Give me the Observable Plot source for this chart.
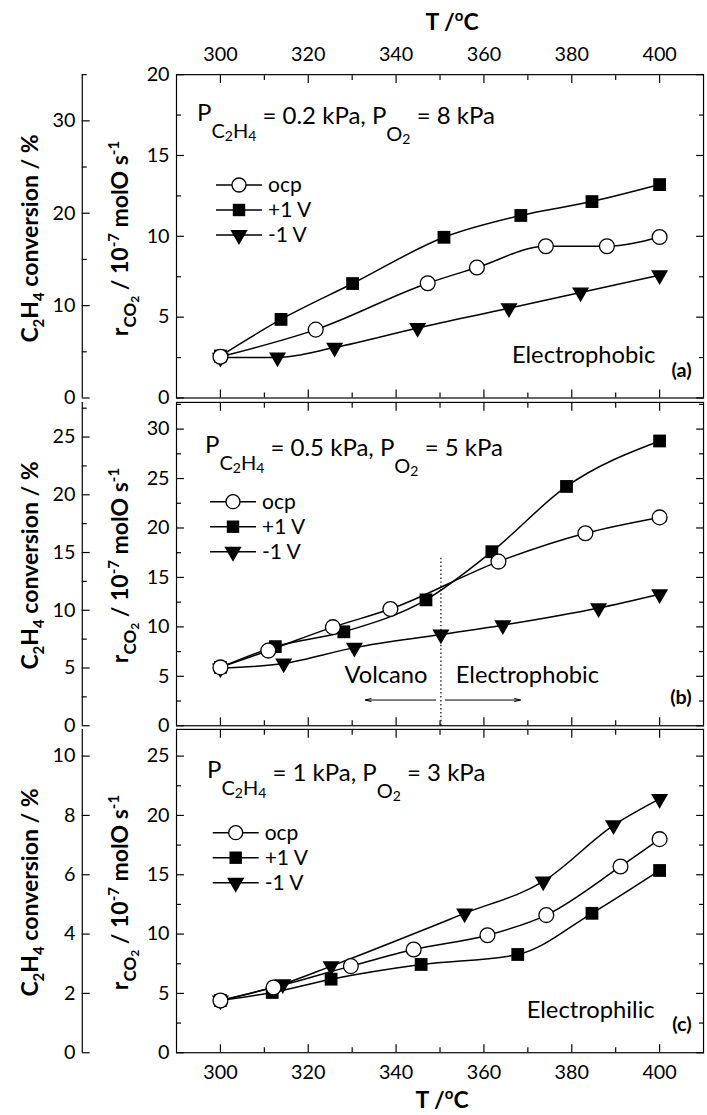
<!DOCTYPE html>
<html>
<head>
<meta charset="utf-8">
<script src="https://cdn.jsdelivr.net/npm/d3@7"></script>
<script src="https://cdn.jsdelivr.net/npm/@observablehq/plot@0.6"></script>
<style>
html, body { margin: 0; padding: 0; overflow: hidden; background: #fff; }
#wrap { position: relative; width: 707px; height: 1115px; overflow: hidden; font-family: Lato, sans-serif; }
#wrap .pnl { position: absolute; left: 0; }
#overlay { position: absolute; left: 0; top: 0; pointer-events: none; }
</style>
</head>
<body>
<div id="wrap"></div>
<script>
// ---------- shared axis values ----------
const xDomain = [290, 410];
const xMajor = [300, 320, 340, 360, 380, 400];
const xMinor = [310, 330, 350, 370, 390];
const seriesNames = ["ocp", "+1 V", "-1 V"];

// ---------- panel (a): P_C2H4 = 0.2 kPa, P_O2 = 8 kPa ----------
const aOcpT = [300, 321.7, 347.2, 358.4, 374.1, 388, 400];
const aOcpR = [2.55, 4.23, 7.1, 8.07, 9.39, 9.39, 9.96];
const aPosT = [300, 313.8, 330.1, 350.9, 368.4, 384.6, 400];
const aPosR = [2.6, 4.86, 7.08, 9.94, 11.29, 12.15, 13.2];
const aNegT = [300, 313, 326, 344.9, 365.7, 382, 400];
const aNegR = [2.5, 2.51, 3.12, 4.33, 5.55, 6.53, 7.6];
const aRateMajor = [0, 5, 10, 15, 20];
const aRateMinor = [2.5, 7.5, 12.5, 17.5];
const aConvMajor = [0, 10, 20, 30];
const aConvMinor = [5, 15, 25, 35];

// ---------- panel (b): P_C2H4 = 0.5 kPa, P_O2 = 5 kPa ----------
const bOcpT = [300, 310.9, 325.6, 338.7, 363.3, 383.1, 400];
const bOcpR = [5.9, 7.6, 9.97, 11.8, 16.6, 19.47, 21.07];
const bPosT = [300, 312.5, 328.1, 346.8, 361.8, 378.8, 400];
const bPosR = [5.9, 8.0, 9.5, 12.73, 17.6, 24.2, 28.8];
const bNegT = [300, 314.4, 330.5, 350.2, 364.3, 386.1, 400];
const bNegR = [5.8, 6.3, 7.9, 9.23, 10.17, 11.9, 13.3];
const bRateMajor = [0, 5, 10, 15, 20, 25, 30];
const bRateMinor = [2.5, 7.5, 12.5, 17.5, 22.5, 27.5, 32.5];
const bConvMajor = [0, 5, 10, 15, 20, 25];
const bConvMinor = [2.5, 7.5, 12.5, 17.5, 22.5, 27.5];
const bBoundaryT = [350.2];
const bArrowFromT = [349, 351.2];
const bArrowToT = [333, 368.3];

// ---------- panel (c): P_C2H4 = 1 kPa, P_O2 = 3 kPa ----------
const cOcpT = [300, 312.1, 329.7, 344, 360.8, 374.2, 391.1, 400];
const cOcpR = [4.4, 5.5, 7.3, 8.7, 9.9, 11.6, 15.7, 18.0];
const cPosT = [300, 311.8, 325.2, 345.7, 367.7, 384.6, 400];
const cPosR = [4.4, 5.08, 6.2, 7.44, 8.28, 11.75, 15.36];
const cNegT = [300, 314.2, 325.2, 355.6, 373.5, 389.5, 400];
const cNegR = [4.4, 5.78, 7.3, 11.75, 14.44, 19.17, 21.4];
const cRateMajor = [0, 5, 10, 15, 20, 25];
const cRateMinor = [2.5, 7.5, 12.5, 17.5, 22.5];
const cConvMajor = [0, 2, 4, 6, 8, 10];
const cConvMinor = [];

// ---------- layout ----------
const W = 715, ML = 178, MR = 4, OUT = 95.3;
const panels = [
  { tag: "(a)", top: 0, height: 410, mt: 75, mb: 8, rateTop: 20, convTop: 35,
    series: [[aOcpT, aOcpR], [aPosT, aPosR], [aNegT, aNegR]],
    rateMajor: aRateMajor, rateMinor: aRateMinor, convMajor: aConvMajor, convMinor: aConvMinor,
    topLabels: true, bottomLabels: false,
    notes: [{T: 382.7, r: 2.66, text: "Electrophobic"}] },
  { tag: "(b)", top: 394, height: 343, mt: 8, mb: 8, rateTop: 32.7, convTop: 28,
    series: [[bOcpT, bOcpR], [bPosT, bPosR], [bNegT, bNegR]],
    rateMajor: bRateMajor, rateMinor: bRateMinor, convMajor: bConvMajor, convMinor: bConvMinor,
    topLabels: false, bottomLabels: false,
    notes: [{T: 337.7, r: 5.1, text: "Volcano"}, {T: 369.9, r: 5.1, text: "Electrophobic"}],
    boundary: bBoundaryT.map(t => ({T: t, r1: 0, r2: 17})),
    arrows: bArrowFromT.map((t, i) => ({T1: t, T2: bArrowToT[i], r: 2.6})) },
  { tag: "(c)", top: 721, height: 394, mt: 8, mb: 59, rateTop: 27.25, convTop: 10.9,
    series: [[cOcpT, cOcpR], [cPosT, cPosR], [cNegT, cNegR]],
    rateMajor: cRateMajor, rateMinor: cRateMinor, convMajor: cConvMajor, convMinor: cConvMinor,
    topLabels: false, bottomLabels: true,
    notes: [{T: 384.3, r: 3.56, text: "Electrophilic"}] }
];

const wrap = document.getElementById("wrap");
const blank = () => "";
const fmt = d => String(+d.toFixed(2));

panels.forEach(p => {
  const k = p.rateTop / p.convTop;
  const rows = [];
  p.series.forEach(([T, R], j) => T.forEach((t, i) => rows.push({T: t, r: R[i], s: seriesNames[j]})));
  const marks = [
    Plot.frame({stroke: "black", strokeWidth: 1.2}),
    // outer conversion axis
    Plot.ruleX([xDomain[0]], {dx: -OUT, stroke: "black", strokeWidth: 1.2}),
    Plot.axisY(p.convMajor.map(v => v * k), {anchor: "left", dx: -OUT, tickSize: -8, tickPadding: 15,
      tickFormat: d => fmt(d / k), label: null, fontSize: 20, strokeWidth: 1.2}),
    p.convMinor.length ? Plot.axisY(p.convMinor.map(v => v * k), {anchor: "left", dx: -OUT, tickSize: -5,
      tickFormat: blank, label: null, strokeWidth: 1.2}) : null,
    // inner rate axis (left + mirrored right)
    Plot.axisY(p.rateMajor, {anchor: "left", tickSize: -8, tickPadding: 15, label: null, fontSize: 20, strokeWidth: 1.2}),
    Plot.axisY(p.rateMinor, {anchor: "left", tickSize: -5, tickFormat: blank, label: null, strokeWidth: 1.2}),
    Plot.axisY(p.rateMajor, {anchor: "right", tickSize: -8, tickFormat: blank, label: null, strokeWidth: 1.2}),
    Plot.axisY(p.rateMinor, {anchor: "right", tickSize: -5, tickFormat: blank, label: null, strokeWidth: 1.2}),
    // x axes, top and bottom, ticks inward
    Plot.axisX(xMajor, {anchor: "top", tickSize: -8, tickPadding: 22, tickFormat: p.topLabels ? (d => d) : blank,
      label: null, fontSize: 20, strokeWidth: 1.2}),
    Plot.axisX(xMinor, {anchor: "top", tickSize: -5, tickFormat: blank, label: null, strokeWidth: 1.2}),
    Plot.axisX(xMajor, {anchor: "bottom", tickSize: -8, tickPadding: 20, tickFormat: p.bottomLabels ? (d => d) : blank,
      label: null, fontSize: 20, strokeWidth: 1.2}),
    Plot.axisX(xMinor, {anchor: "bottom", tickSize: -5, tickFormat: blank, label: null, strokeWidth: 1.2}),
    // data
    Plot.line(rows, {x: "T", y: "r", z: "s", curve: "monotone-x", stroke: "black", strokeWidth: 1.5}),
    Plot.dot(rows.filter(d => d.s === "-1 V"), {x: "T", y: "r", symbol: "triangle", r: 6.4, fill: "black", rotate: 180}),
    Plot.dot(rows.filter(d => d.s === "+1 V"), {x: "T", y: "r", symbol: "square", r: 7.3, fill: "black"}),
    Plot.dot(rows.filter(d => d.s === "ocp"), {x: "T", y: "r", symbol: "circle", r: 7.5, fill: "white", stroke: "black", strokeWidth: 1.3}),
    // annotations
    Plot.text(p.notes, {x: "T", y: "r", text: "text", fontSize: 24, textAnchor: "middle"}),
    Plot.text([p.tag], {text: d => d, frameAnchor: "bottom-right", dx: -12, dy: -28, fontSize: 20,
      fontWeight: "bold", textAnchor: "end", lineAnchor: "middle"})
  ];
  if (p.boundary) marks.push(Plot.ruleX(p.boundary, {x: "T", y1: "r1", y2: "r2", stroke: "black",
    strokeWidth: 1.2, strokeDasharray: "1.5,2.5"}));
  if (p.arrows) marks.push(Plot.arrow(p.arrows, {x1: "T1", x2: "T2", y1: "r", y2: "r", stroke: "black",
    strokeWidth: 1, headLength: 9, headAngle: 30}));

  const svg = Plot.plot({
    width: W, height: p.height,
    marginLeft: ML, marginRight: MR, marginTop: p.mt, marginBottom: p.mb,
    x: {domain: xDomain, axis: null},
    y: {domain: [0, p.rateTop], axis: null},
    style: {fontFamily: "Lato, sans-serif", fontSize: "20px", background: "none", overflow: "visible", color: "black"},
    marks: marks.filter(Boolean)
  });
  const div = document.createElement("div");
  div.className = "pnl";
  div.style.top = p.top + "px";
  div.appendChild(svg);
  wrap.appendChild(div);
});

// ---------- overlay: rich-text titles, headers, legends ----------
const NS = "http://www.w3.org/2000/svg";
const ov = document.createElementNS(NS, "svg");
ov.setAttribute("id", "overlay");
ov.setAttribute("width", 707);
ov.setAttribute("height", 1115);
ov.style.fontFamily = "Lato, sans-serif";
wrap.appendChild(ov);

function addText(parts, attrs) {
  const t = document.createElementNS(NS, "text");
  for (const [a, v] of Object.entries(attrs)) t.setAttribute(a, v);
  parts.forEach(([str, size, dy]) => {
    const s = document.createElementNS(NS, "tspan");
    s.textContent = str;
    if (size) s.setAttribute("font-size", size);
    if (dy) s.setAttribute("dy", dy);
    t.appendChild(s);
  });
  ov.appendChild(t);
  return t;
}

// temperature titles
const tTitle = [["T /", null, 0], ["o", 15, -9], ["C", null, 9]];
addText(tTitle, {x: 452, y: 29.5, "text-anchor": "middle", "font-weight": "bold", "font-size": 23});
addText(tTitle, {x: 442, y: 1108, "text-anchor": "middle", "font-weight": "bold", "font-size": 23});

// y titles per panel
const panelCenters = [238.5, 565.5, 892.5];
panelCenters.forEach(cy => {
  addText([["C", null, 0], ["2", 15, 6], ["H", null, -6], ["4", 15, 6], [" conversion / %", null, -6]],
    {transform: `translate(38,${cy}) rotate(-90)`, "text-anchor": "middle", "font-weight": "bold", "font-size": 23});
  addText([["r", null, 0], ["CO", 17, 8], ["2", 12, 3], [" / 10", null, -11], ["-7", 15, -9], [" molO s", null, 9], ["-1", 15, -9]],
    {transform: `translate(128,${cy}) rotate(-90)`, "text-anchor": "middle", "font-weight": "bold", "font-size": 23});
});

// condition headers
const headers = [
  {x: 197, y: 121, c2h4: "0.2", o2: "8"},
  {x: 205, y: 453, c2h4: "0.5", o2: "5"},
  {x: 207, y: 778, c2h4: "1", o2: "3"}
];
headers.forEach(h => {
  addText([["P", null, 0], ["C", 20, 17], ["2", 14, 3], ["H", 20, -3], ["4", 14, 3],
           [` = ${h.c2h4} kPa, P`, null, -17], ["O", 20, 17], ["2", 14, 3], [` = ${h.o2} kPa`, null, -20]],
    {x: h.x, y: h.y, "font-size": 24});
});

// legends
const legends = [{mx: 239, y0: 185}, {mx: 233, y0: 501.7}, {mx: 235.7, y0: 832.7}];
const legendSymbols = {
  "ocp": d3.symbol(d3.symbolCircle, Math.PI * 7 * 7)(),
  "+1 V": d3.symbol(d3.symbolSquare, Math.PI * 7 * 7)(),
  "-1 V": d3.symbol(d3.symbolTriangle, Math.PI * 6.4 * 6.4)()
};
legends.forEach(L => {
  seriesNames.forEach((name, i) => {
    const y = L.y0 + i * 25;
    const ln = document.createElementNS(NS, "line");
    ln.setAttribute("x1", L.mx - 23); ln.setAttribute("x2", L.mx + 23);
    ln.setAttribute("y1", y); ln.setAttribute("y2", y);
    ln.setAttribute("stroke", "black"); ln.setAttribute("stroke-width", 1.5);
    ov.appendChild(ln);
    const m = document.createElementNS(NS, "path");
    m.setAttribute("d", legendSymbols[name]);
    m.setAttribute("transform", `translate(${L.mx},${y})` + (name === "-1 V" ? " rotate(180)" : ""));
    m.setAttribute("fill", name === "ocp" ? "white" : "black");
    if (name === "ocp") { m.setAttribute("stroke", "black"); m.setAttribute("stroke-width", 1.3); }
    ov.appendChild(m);
    addText([[name, null, 0]], {x: L.mx + 29, y: y, dy: "0.35em", "font-size": 21});
  });
});
</script>
</body>
</html>
